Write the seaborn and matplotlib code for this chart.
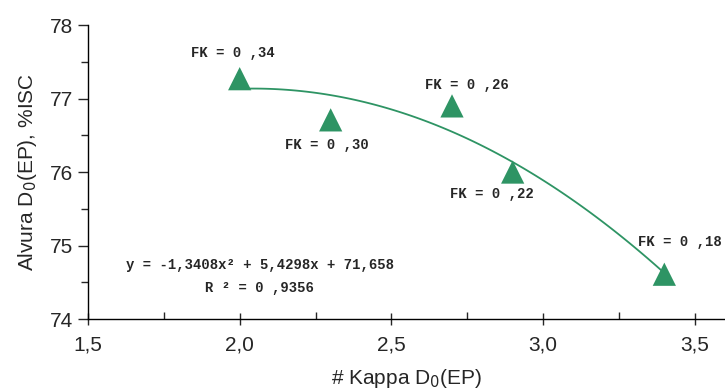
import numpy as np
import pandas as pd
import matplotlib
matplotlib.use("Agg")
import matplotlib.pyplot as plt
import seaborn as sns
from matplotlib.ticker import MultipleLocator, FuncFormatter

kappa = [2.0, 2.3, 2.7, 2.9, 3.4]
alvura = [77.27, 76.71, 76.90, 76.00, 74.61]
fk_labels = ["FK = 0 ,34", "FK = 0 ,30", "FK = 0 ,26", "FK = 0 ,22", "FK = 0 ,18"]
equation = "y = -1,3408x² + 5,4298x + 71,658"
r2_text = "R ² = 0 ,9356"

df = pd.DataFrame({"kappa": kappa, "alvura": alvura})

sns.set_theme(style="ticks")
plt.rcParams["font.family"] = ["Liberation Sans", "DejaVu Sans"]

green = "#2e9464"
fig = plt.figure(figsize=(7.25, 3.91), dpi=100)
ax = fig.add_axes([0.1214, 0.184, 0.8786, 0.752])

sns.regplot(data=df, x="kappa", y="alvura", order=2, ci=None, truncate=True,
            scatter=False, ax=ax, line_kws=dict(color=green, lw=1.3))
sns.scatterplot(data=df, x="kappa", y="alvura", marker="^", s=280, color=green,
                edgecolor="none", ax=ax, zorder=5)

ax.set_xlim(1.5, 3.6)
ax.set_ylim(74, 78)
ax.xaxis.set_major_locator(MultipleLocator(0.5))
ax.xaxis.set_minor_locator(MultipleLocator(0.25))
ax.yaxis.set_major_locator(MultipleLocator(1))
ax.yaxis.set_minor_locator(MultipleLocator(0.5))
ax.xaxis.set_major_formatter(FuncFormatter(lambda v, p: f"{v:.1f}".replace(".", ",")))
ax.yaxis.set_major_formatter(FuncFormatter(lambda v, p: f"{v:.0f}"))
ax.tick_params(axis="x", which="major", direction="inout", length=9, width=1, labelsize=15, pad=7)
ax.tick_params(axis="x", which="minor", direction="in", length=5, width=1)
ax.tick_params(axis="y", which="major", direction="out", length=7, width=1, labelsize=15)
ax.tick_params(axis="y", which="minor", direction="out", length=5, width=1)
for s in ["top", "right"]:
    ax.spines[s].set_visible(False)
for s in ["left", "bottom"]:
    ax.spines[s].set_color("black")
    ax.spines[s].set_linewidth(1)

ax.set_xlabel("# Kappa D$_0$(EP)", fontsize=15, labelpad=9)
ax.set_ylabel("Alvura D$_0$(EP), %ISC", fontsize=15, labelpad=8)

mono = dict(family=["Liberation Mono", "DejaVu Sans Mono"], fontweight="bold", fontsize=10)
label_pos = [(1.977, 77.62), (2.286, 76.37), (2.75, 77.18), (2.83, 75.70), (3.452, 75.05)]
for (lx, ly), t in zip(label_pos, fk_labels):
    ax.text(lx, ly, t, ha="center", va="center", clip_on=False, **mono)
ax.text(2.066, 74.73, equation, ha="center", va="center", **mono)
ax.text(2.066, 74.42, r2_text, ha="center", va="center", **mono)

fig.savefig("out.png", dpi=100)
